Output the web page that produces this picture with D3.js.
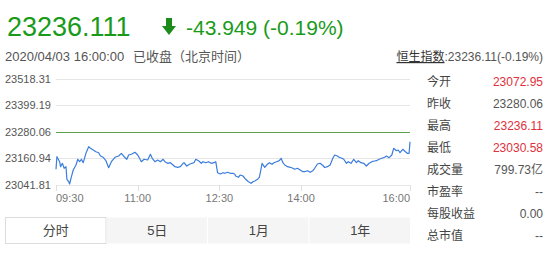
<!DOCTYPE html>
<html>
<head>
<meta charset="utf-8">
<script src="https://cdn.jsdelivr.net/npm/d3@7"></script>
<style>
  body { margin: 0; background: #fff; }
  svg { display: block; font-family: "Liberation Sans", Arial, "Noto Sans CJK SC", sans-serif; }
</style>
</head>
<body>
<svg id="chart" width="548" height="255"></svg>
<script>
// minutes after 09:30 and index level at that minute
const minutes = [
  0, 1, 4, 5, 7, 9, 11, 12, 14, 15,
  17, 19, 22, 24, 26, 28, 30, 33, 36, 38,
  41, 44, 47, 49, 52, 55, 58, 61, 65, 69,
  72, 75, 78, 80, 83, 87, 90, 92, 94, 97,
  101, 104, 106, 109, 112, 115, 118, 120, 123, 126,
  129, 131, 134, 137, 140, 141, 144, 147, 150, 152,
  154, 157, 160, 162, 165, 168, 171, 174, 176, 178,
  181, 184, 186, 189, 192, 195, 197, 198, 201, 203,
  206, 209, 212, 215, 217, 219, 222, 224, 226, 227,
  230, 232, 235, 238, 240, 243, 246, 248, 250, 252,
  255, 258, 261, 263, 266, 269, 272, 274, 277, 280,
  283, 285, 288, 291, 294, 296, 299, 302, 305, 307,
  310, 312, 315, 317, 320, 322, 325, 328, 331, 333,
  336, 339, 342, 345, 348, 351, 353, 356, 359, 362,
  364, 367, 370, 372, 375, 377, 379, 382, 385, 387,
  389, 390
];
const prices = [
  23112.4, 23169.0, 23146.6, 23124.1, 23139.4, 23116.9, 23124.1, 23067.5, 23056.7, 23046.3,
  23079.2, 23109.2, 23131.7, 23157.4, 23146.6, 23157.4, 23142.1, 23184.3, 23214.0, 23206.8,
  23199.2, 23191.5, 23187.0, 23172.2, 23166.4, 23151.1, 23119.6, 23146.6, 23166.4, 23172.2,
  23184.3, 23169.0, 23157.4, 23176.7, 23179.9, 23188.8, 23176.7, 23161.9, 23146.6, 23157.4,
  23154.2, 23179.9, 23161.9, 23146.6, 23154.2, 23146.6, 23157.4, 23146.6, 23139.4, 23142.1,
  23131.7, 23124.1, 23121.4, 23124.1, 23139.4, 23142.1, 23127.2, 23134.9, 23139.4, 23142.1,
  23157.4, 23151.1, 23139.4, 23146.6, 23142.1, 23146.6, 23139.4, 23142.1, 23146.6, 23097.1,
  23091.3, 23097.1, 23094.4, 23098.9, 23094.4, 23094.4, 23089.9, 23082.3, 23076.4, 23086.8,
  23082.3, 23067.5, 23056.7, 23049.5, 23056.7, 23059.8, 23067.5, 23076.4, 23116.9, 23139.4,
  23121.4, 23131.7, 23142.1, 23134.9, 23142.1, 23146.6, 23151.1, 23161.9, 23142.1, 23131.7,
  23124.1, 23121.4, 23116.9, 23112.4, 23116.9, 23109.2, 23101.6, 23101.6, 23106.1, 23098.9,
  23106.1, 23116.9, 23136.2, 23139.4, 23129.5, 23120.5, 23124.1, 23131.7, 23161.9, 23176.7,
  23172.2, 23166.4, 23161.9, 23157.4, 23139.4, 23146.6, 23139.4, 23157.4, 23142.1, 23151.1,
  23142.1, 23139.4, 23127.2, 23139.4, 23146.6, 23149.7, 23151.1, 23157.4, 23161.9, 23166.4,
  23172.2, 23164.6, 23176.7, 23206.8, 23196.0, 23199.2, 23187.0, 23202.3, 23191.5, 23184.3,
  23184.3, 23236.11
];
const prevClose = 23280.06;
const yTicks = [23518.31, 23399.19, 23280.06, 23160.94, 23041.81];
const timeTicks = ["09:30", "11:00", "12:30", "14:00", "16:00"];
const tabs = ["分时", "5日", "1月", "1年"];
const statLabels = ["今开", "昨收", "最高", "最低", "成交量", "市盈率", "每股收益", "总市值"];
const statValues = ["23072.95", "23280.06", "23236.11", "23030.58", "799.73亿", "--", "0.00", "--"];
const statRed = [true, false, true, true, false, false, false, false];

const svg = d3.select("#chart");
const green = "#1a9a1a";
const grey = "#555";

// header
svg.append("text").attr("x", 7).attr("y", 36)
  .attr("font-size", 27).attr("fill", green).text("23236.111");
svg.append("path")
  .attr("d", "M166,18 h6 v8 h4 l-7,9 l-7,-9 h4 z")
  .attr("fill", "#1b8c1b");
svg.append("text").attr("x", 186).attr("y", 35)
  .attr("font-size", 21).attr("fill", green).text("-43.949 (-0.19%)");
svg.append("text").attr("x", 5).attr("y", 61)
  .attr("font-size", 13).attr("fill", grey).text("2020/04/03 16:00:00");
svg.append("text").attr("x", 133).attr("y", 61)
  .attr("font-size", 13).attr("fill", grey).text("已收盘（北京时间）");
const hs = svg.append("text").attr("x", 543).attr("y", 61)
  .attr("text-anchor", "end").attr("font-size", 12).attr("fill", grey);
hs.append("tspan").attr("text-decoration", "underline").attr("fill", "#333").text("恒生指数");
hs.append("tspan").text(":23236.11(-0.19%)");

// scales
const timeToMin = t => {
  const [h, m] = t.split(":").map(Number);
  return h * 60 + m - (9 * 60 + 30);
};
const x = d3.scaleLinear().domain([0, 390]).range([56, 410]);
const y = d3.scaleLinear().domain([23041.81, 23518.31]).range([185, 79]);

// grid
svg.append("g").selectAll("line").data(yTicks).join("line")
  .attr("x1", 56).attr("x2", 410)
  .attr("y1", d => Math.round(y(d)) + 0.5).attr("y2", d => Math.round(y(d)) + 0.5)
  .attr("stroke", d => d === prevClose ? "#5ea04e" : "#e6e6e6")
  .attr("stroke-width", 1);

svg.append("g").selectAll("text").data(yTicks).join("text")
  .attr("x", 5).attr("y", d => y(d) + 4)
  .attr("font-size", 11).attr("fill", grey)
  .text(d => d.toFixed(2));

// x ticks
svg.append("g").selectAll("line").data(timeTicks).join("line")
  .attr("x1", d => Math.round(x(timeToMin(d))) + 0.5)
  .attr("x2", d => Math.round(x(timeToMin(d))) + 0.5)
  .attr("y1", 185).attr("y2", 191)
  .attr("stroke", "#e0e0e0");

svg.append("g").selectAll("text").data(timeTicks).join("text")
  .attr("x", d => x(timeToMin(d)))
  .attr("y", 202)
  .attr("font-size", 11).attr("fill", "#777")
  .attr("text-anchor", (d, i) => i === 0 ? "start" : i === timeTicks.length - 1 ? "end" : "middle")
  .text(d => d);

// price line
const pts = minutes.map((m, i) => [m, prices[i]]);
const line = d3.line().x(d => x(d[0])).y(d => y(d[1]));
svg.append("path").datum(pts)
  .attr("d", line)
  .attr("fill", "none")
  .attr("stroke", "#3b7ddd")
  .attr("stroke-width", 1.2)
  .attr("stroke-linejoin", "round");

// tabs
const tabX = d3.scaleBand().domain(tabs).range([5, 411]);
const tabG = svg.append("g").selectAll("g").data(tabs).join("g");
tabG.append("rect")
  .attr("x", d => tabX(d) + (d === tabs[0] ? 0.5 : 0))
  .attr("y", 217.5)
  .attr("width", d => tabX.bandwidth() - (d === tabs[0] ? 1 : 1))
  .attr("height", 26)
  .attr("fill", d => d === tabs[0] ? "#fff" : "#f5f5f5")
  .attr("stroke", d => d === tabs[0] ? "#dcdcdc" : "none");
tabG.append("text")
  .attr("x", d => tabX(d) + tabX.bandwidth() / 2)
  .attr("y", 235)
  .attr("text-anchor", "middle")
  .attr("font-size", 13).attr("fill", "#444")
  .text(d => d);

// stats panel
const rowY = d3.scaleBand().domain(statLabels).range([70.75, 246]);
svg.append("g").selectAll("text").data(statLabels).join("text")
  .attr("x", 427).attr("y", d => rowY(d) + rowY.bandwidth() / 2 + 4.5)
  .attr("font-size", 12).attr("fill", "#444")
  .text(d => d);
svg.append("g").selectAll("text").data(statValues).join("text")
  .attr("x", 543).attr("y", (d, i) => rowY(statLabels[i]) + rowY.bandwidth() / 2 + 4.5)
  .attr("text-anchor", "end")
  .attr("font-size", 12)
  .attr("fill", (d, i) => statRed[i] ? "#e0303c" : grey)
  .text(d => d);
</script>
</body>
</html>
